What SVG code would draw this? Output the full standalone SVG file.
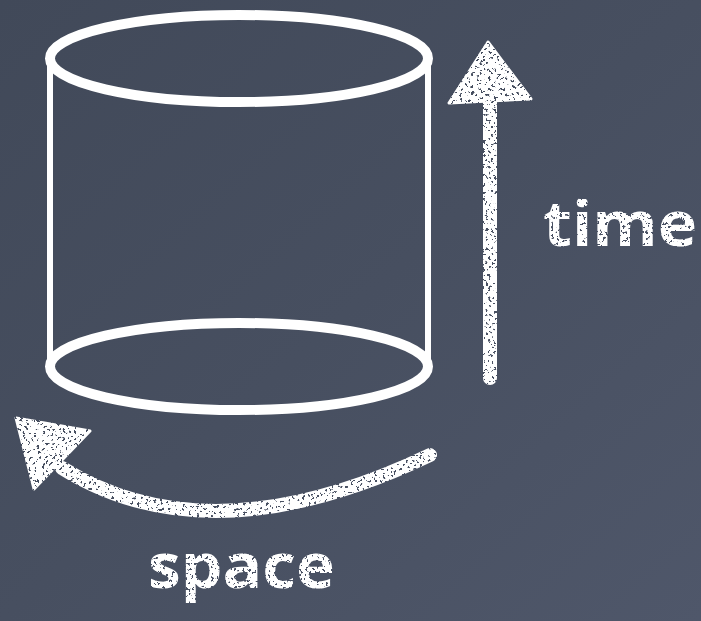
<svg xmlns="http://www.w3.org/2000/svg" width="701" height="621" viewBox="0 0 701 621">
  <defs>
    <linearGradient id="bg" x1="0" y1="0" x2="1" y2="1">
      <stop offset="0" stop-color="#414959"/>
      <stop offset="0.5" stop-color="#474f60"/>
      <stop offset="1" stop-color="#4f576a"/>
    </linearGradient>
    <filter id="chalk" x="-10%" y="-10%" width="120%" height="120%">
      <feTurbulence type="fractalNoise" baseFrequency="0.35" numOctaves="2" seed="5" result="noise"/>
      <feColorMatrix in="noise" type="matrix" values="0 0 0 0 0  0 0 0 0 0  0 0 0 0 0  0 0 0 -25 16.5" result="mask"/>
      <feComposite in="SourceGraphic" in2="mask" operator="in"/>
    </filter>
    <style>
      .cyl { fill: none; stroke: #ffffff; }
      .rim { stroke-width: 10; }
      .side { stroke-width: 6; }
      .chalk { fill: #ffffff; stroke: #ffffff; }
      .shaft { fill: none; stroke: #ffffff; stroke-width: 14; stroke-linecap: round; }
      .label { fill: #ffffff; font-family: "Open Sans", "DejaVu Sans", sans-serif; font-weight: 700; }
    </style>
  </defs>
  <rect x="0" y="0" width="701" height="621" fill="url(#bg)"/>

  <g id="cylinder">
    <line class="cyl side" x1="50" y1="58" x2="50" y2="366"/>
    <line class="cyl side" x1="428" y1="58" x2="428" y2="366"/>
    <ellipse class="cyl rim" cx="239" cy="58.5" rx="189" ry="43.5"/>
    <ellipse class="cyl rim" cx="239" cy="366.5" rx="189" ry="43.5"/>
  </g>

  <g id="connectors" filter="url(#chalk)">
    <g id="time-arrow">
      <line class="shaft" x1="490" y1="378" x2="490" y2="100"/>
      <polygon class="chalk" stroke-width="3" stroke-linejoin="round" points="488,42 449,103 531,99"/>
    </g>
    <g id="space-arrow">
      <path class="shaft" d="M 430,455 Q 210,560 62,468"/>
      <polygon class="chalk" stroke-width="3" stroke-linejoin="round" points="16,418 90,431 34,489"/>
    </g>
  </g>

  <g id="labels" filter="url(#chalk)">
    <text id="time-label" class="label" x="543" y="246" font-size="62" textLength="154" lengthAdjust="spacingAndGlyphs">time</text>
    <text id="space-label" class="label" x="148" y="588" font-size="62" textLength="187" lengthAdjust="spacingAndGlyphs">space</text>
  </g>
</svg>
